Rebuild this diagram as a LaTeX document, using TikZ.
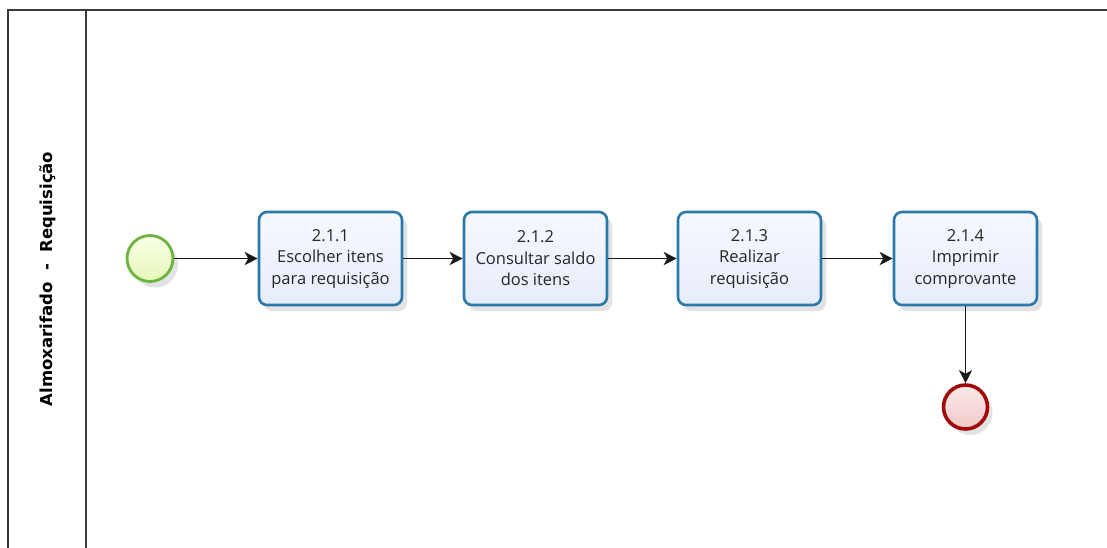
\documentclass[tikz,border=0pt]{standalone}
\usepackage{fontspec}
\setmainfont{Open Sans}
\newfontfamily\lanefont{DejaVu Sans}
\usetikzlibrary{arrows.meta,shadows,shadings}

\definecolor{taskline}{HTML}{2A79A9}
\definecolor{tasktop}{HTML}{F7F9FE}
\definecolor{taskbot}{HTML}{E6ECFA}
\definecolor{startline}{HTML}{6DB33F}
\definecolor{starttop}{HTML}{F9FFE6}
\definecolor{startbot}{HTML}{E4F7B8}
\definecolor{endline}{HTML}{A20A0A}
\definecolor{endtop}{HTML}{FBE9E9}
\definecolor{endbot}{HTML}{F0C8C8}
\definecolor{frameline}{HTML}{3A3A3A}

\tikzset{
  softshadow/.style={drop shadow={shadow xshift=5pt, shadow yshift=-6pt,
      opacity=0.18, fill=black!60}},
  task/.style={draw=taskline, line width=2.6pt, rounded corners=8pt,
      top color=tasktop, bottom color=taskbot,
      minimum width=143pt, minimum height=93pt, inner sep=2pt,
      align=center, font=\fontsize{16.5}{21.5}\selectfont, text=black!85,
      softshadow},
  startev/.style={circle, draw=startline, line width=2.8pt,
      top color=starttop, bottom color=startbot,
      minimum size=46pt, inner sep=0pt, softshadow},
  endev/.style={circle, draw=endline, line width=3.6pt,
      top color=endtop, bottom color=endbot,
      minimum size=44pt, inner sep=0pt, softshadow},
  flow/.style={draw=black!90, line width=1.5pt,
      -{Stealth[length=13pt, width=13pt, inset=3.5pt]}},
  frame/.style={draw=frameline, line width=2pt},
}

\begin{document}
\begin{tikzpicture}[x=1pt, y=-1pt]
  \useasboundingbox (0,0) rectangle (1107,547);

  % pool frame with the lane header column
  \begin{scope}
    \clip (0,0) rectangle (1107,547);
    \draw[frame] (8,10) rectangle (1120,560);
    \draw[frame] (86,10) -- (86,560);
  \end{scope}
  \node (lane) [rotate=90, font=\lanefont\bfseries\fontsize{16.5}{18}\selectfont]
    at (48,279) {Almoxarifado~~-~~Requisição};

  % events and tasks
  \node (start) [startev] at (150,258.5) {};
  \node (t1) [task] at (330.5,258.5) {2.1.1\\Escolher itens\\para requisição};
  \node (t2) [task] at (535.5,258.5) {2.1.2\\Consultar saldo\\dos itens};
  \node (t3) [task] at (749.5,258.5) {2.1.3\\Realizar\\requisição};
  \node (t4) [task] at (965.5,258.5) {2.1.4\\Imprimir\\comprovante};
  \node (end) [endev] at (965.5,407) {};

  % sequence flows
  \draw[flow] (start) -- (t1);
  \draw[flow] (t1) -- (t2);
  \draw[flow] (t2) -- (t3);
  \draw[flow] (t3) -- (t4);
  \draw[flow] (t4) -- (end);
\end{tikzpicture}
\end{document}
